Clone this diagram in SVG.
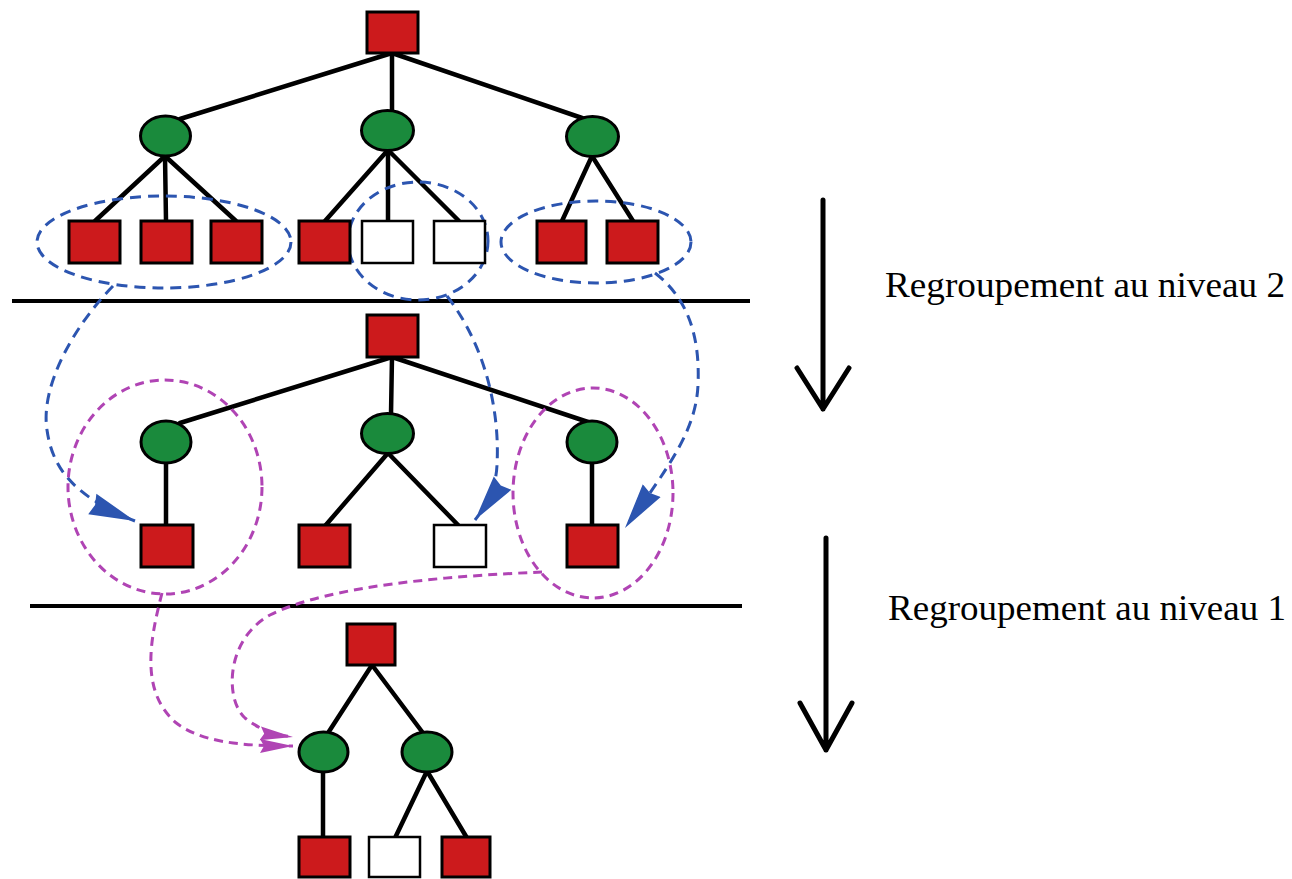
<svg xmlns="http://www.w3.org/2000/svg" width="1292" height="879" viewBox="0 0 1292 879">
<style>
.leaf{fill:#cc1a1c;stroke:#000;stroke-width:3}
.empty{fill:#fff;stroke:#000;stroke-width:2.5}
.inner{fill:#1a8a3c;stroke:#000;stroke-width:3}
.edge{stroke:#000;stroke-width:4.5;stroke-linecap:round;fill:none}
.sep{stroke:#000;stroke-width:4}
.bgrp{fill:none;stroke:#2c55b0;stroke-width:3;stroke-dasharray:11 7}
.mgrp{fill:none;stroke:#b044b4;stroke-width:3;stroke-dasharray:9 6}
.bflow{fill:none;stroke:#2c55b0;stroke-width:3;stroke-dasharray:11 7}
.mflow{fill:none;stroke:#b044b4;stroke-width:3;stroke-dasharray:9 6}
.big{stroke:#000;stroke-width:5;fill:none;stroke-linecap:round;stroke-linejoin:round}
.lbl{font-family:"Liberation Serif","Times New Roman",serif;font-size:36px;fill:#000}
</style>
<defs>
<marker id="bhead" markerUnits="userSpaceOnUse" markerWidth="50" markerHeight="26" refX="46" refY="12" orient="auto">
<path d="M0,1 L46,12 L0,23 L3,12 Z" fill="#2c55b0"/>
</marker>
<marker id="mhead" markerUnits="userSpaceOnUse" markerWidth="36" markerHeight="18" refX="33" refY="8" orient="auto">
<path d="M0,1 L33,8 L0,15 L4,8 Z" fill="#b044b4"/>
</marker>
</defs>
<rect width="1292" height="879" fill="#fff"/>

<g id="separators">
<line class="sep" x1="12" y1="301" x2="750" y2="301"/>
<line class="sep" x1="30" y1="606" x2="742" y2="606"/>
</g>

<g id="connectors">
<!-- top tree -->
<line class="edge" x1="392" y1="53" x2="180" y2="119"/>
<line class="edge" x1="392" y1="53" x2="392" y2="111"/>
<line class="edge" x1="392" y1="53" x2="582" y2="118"/>
<line class="edge" x1="165" y1="156" x2="95" y2="221"/>
<line class="edge" x1="165" y1="156" x2="166" y2="221"/>
<line class="edge" x1="165" y1="156" x2="236" y2="221"/>
<line class="edge" x1="388" y1="150" x2="325" y2="221"/>
<line class="edge" x1="388" y1="150" x2="388" y2="221"/>
<line class="edge" x1="388" y1="150" x2="459" y2="221"/>
<line class="edge" x1="592" y1="156" x2="562" y2="221"/>
<line class="edge" x1="592" y1="156" x2="633" y2="221"/>
<!-- middle tree -->
<line class="edge" x1="392" y1="357" x2="180" y2="423"/>
<line class="edge" x1="392" y1="357" x2="391" y2="414"/>
<line class="edge" x1="392" y1="357" x2="588" y2="422"/>
<line class="edge" x1="166" y1="462" x2="166" y2="525"/>
<line class="edge" x1="388" y1="453" x2="325" y2="526"/>
<line class="edge" x1="388" y1="453" x2="459" y2="526"/>
<line class="edge" x1="592" y1="462" x2="592" y2="526"/>
<!-- bottom tree -->
<line class="edge" x1="372" y1="665" x2="328" y2="733"/>
<line class="edge" x1="372" y1="665" x2="423" y2="733"/>
<line class="edge" x1="323" y1="771" x2="323" y2="838"/>
<line class="edge" x1="427" y1="771" x2="395" y2="838"/>
<line class="edge" x1="427" y1="771" x2="467" y2="838"/>
<!-- level-2 grouping flows -->
<path class="bflow" d="M113,286 C75,325 40,385 47,430 C52,465 70,495 135,521" marker-end="url(#bhead)"/>
<path class="bflow" d="M447,296 C485,345 500,410 497,465 C496,485 490,500 475,520" marker-end="url(#bhead)"/>
<path class="bflow" d="M655,273 C690,300 700,340 698,385 C696,430 670,465 625,528" marker-end="url(#bhead)"/>
<!-- level-1 grouping flows -->
<path class="mflow" d="M162,593 C150,640 140,690 175,722 C200,742 240,746 293,746" marker-end="url(#mhead)"/>
<path class="mflow" d="M542,572 C450,576 330,585 270,615 C225,640 225,700 245,718 C260,730 275,735 293,737" marker-end="url(#mhead)"/>
</g>

<g id="groups-level2">
<ellipse class="bgrp" cx="164" cy="242" rx="127" ry="46"/>
<ellipse class="bgrp" cx="418" cy="241" rx="70" ry="59"/>
<ellipse class="bgrp" cx="596" cy="242" rx="95" ry="41"/>
</g>
<g id="groups-level1">
<ellipse class="mgrp" cx="165" cy="487" rx="97" ry="107"/>
<ellipse class="mgrp" cx="593" cy="493" rx="80" ry="105"/>
</g>

<!-- top tree nodes -->
<g id="t-root"><rect class="leaf" x="367" y="12" width="51" height="41"/></g>
<g id="t-n1"><ellipse class="inner" cx="165.5" cy="136" rx="25" ry="20"/></g>
<g id="t-n2"><ellipse class="inner" cx="387.5" cy="130.5" rx="26" ry="20"/></g>
<g id="t-n3"><ellipse class="inner" cx="592.5" cy="136.5" rx="26" ry="20"/></g>
<g id="t-l1"><rect class="leaf" x="69" y="221" width="51" height="42"/></g>
<g id="t-l2"><rect class="leaf" x="141" y="221" width="51" height="42"/></g>
<g id="t-l3"><rect class="leaf" x="211" y="221" width="51" height="42"/></g>
<g id="t-l4"><rect class="leaf" x="299" y="221" width="51" height="42"/></g>
<g id="t-l5"><rect class="empty" x="362" y="221" width="51" height="42"/></g>
<g id="t-l6"><rect class="empty" x="434" y="221" width="51" height="42"/></g>
<g id="t-l7"><rect class="leaf" x="537" y="221" width="49" height="42"/></g>
<g id="t-l8"><rect class="leaf" x="607" y="221" width="51" height="42"/></g>

<!-- middle tree nodes -->
<g id="m-root"><rect class="leaf" x="367" y="315" width="51" height="42"/></g>
<g id="m-n1"><ellipse class="inner" cx="166" cy="442" rx="25" ry="21"/></g>
<g id="m-n2"><ellipse class="inner" cx="387.5" cy="433.5" rx="26" ry="20"/></g>
<g id="m-n3"><ellipse class="inner" cx="592" cy="442" rx="25" ry="21"/></g>
<g id="m-l1"><rect class="leaf" x="141" y="525" width="52" height="42"/></g>
<g id="m-l2"><rect class="leaf" x="299" y="525" width="51" height="42"/></g>
<g id="m-l3"><rect class="empty" x="434" y="525" width="52" height="42"/></g>
<g id="m-l4"><rect class="leaf" x="567" y="525" width="51" height="42"/></g>

<!-- bottom tree nodes -->
<g id="b-root"><rect class="leaf" x="347" y="624" width="48" height="41"/></g>
<g id="b-n1"><ellipse class="inner" cx="323.5" cy="752" rx="24.5" ry="20"/></g>
<g id="b-n2"><ellipse class="inner" cx="427" cy="752" rx="25" ry="20"/></g>
<g id="b-l1"><rect class="leaf" x="299" y="837" width="51" height="40"/></g>
<g id="b-l2"><rect class="empty" x="369" y="837" width="51" height="40"/></g>
<g id="b-l3"><rect class="leaf" x="442" y="837" width="48" height="40"/></g>

<g id="step-arrows">
<path class="big" d="M823,200 L823,409 M797,368 L823,409 L849,368"/>
<path class="big" d="M826,538 L826,750 M800,703 L826,750 L852,703"/>
</g>
<g id="labels">
<text class="lbl" x="885" y="297" textLength="400" lengthAdjust="spacingAndGlyphs">Regroupement au niveau 2</text>
<text class="lbl" x="888" y="620" textLength="398" lengthAdjust="spacingAndGlyphs">Regroupement au niveau 1</text>
</g>
</svg>
